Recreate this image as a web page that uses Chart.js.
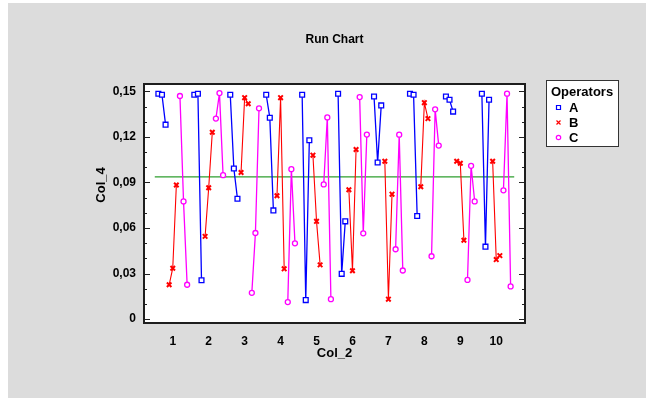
<!DOCTYPE html>
<html>
<head>
<meta charset="utf-8">
<title>Run Chart</title>
<script src="https://cdn.jsdelivr.net/npm/chart.js@4.4.1/dist/chart.umd.min.js"></script>
<style>
    html, body { margin: 0; padding: 0; background: #ffffff; }
    canvas { display: block; }
</style>
</head>
<body>
<canvas id="runChart" width="646" height="398"></canvas>
<script>
// Col_2 groups, 3 runs per operator in each group
const categories = [1, 2, 3, 4, 5, 6, 7, 8, 9, 10];
const operators = ['A', 'B', 'C'];

// Col_4 values, three per group, in run order
const opA = [
    0.1485, 0.1478, 0.1281,
    0.1478, 0.1485, 0.0256,
    0.1478, 0.0992, 0.0793,
    0.1478, 0.1327, 0.0716,
    0.1478, 0.0125, 0.1178,
    0.1485, 0.0298, 0.0644,
    0.1467, 0.1032, 0.1408,
    0.1485, 0.1478, 0.0679,
    0.1467, 0.1445, 0.1367,
    0.1485, 0.0477, 0.1445
];
const opB = [
    0.0226, 0.0335, 0.0883,
    0.0545, 0.0865, 0.1231,
    0.0966, 0.1459, 0.1419,
    0.0813, 0.1459, 0.0331,
    0.1080, 0.0644, 0.0357,
    0.0852, 0.0318, 0.1117,
    0.1040, 0.0131, 0.0823,
    0.0872, 0.1426, 0.1321,
    0.1040, 0.1027, 0.0519,
    0.1040, 0.0392, 0.0418
];
const opC = [
    0.1470, 0.0775, 0.0226,
    0.1321, 0.1489, 0.0948,
    0.0173, 0.0567, 0.1389,
    0.0112, 0.0988, 0.0499,
    0.0887, 0.1329, 0.0131,
    0.1463, 0.0565, 0.1216,
    0.0460, 0.1215, 0.0320,
    0.0414, 0.1382, 0.1143,
    0.0258, 0.1010, 0.0775,
    0.0848, 0.1485, 0.0215
];
const centerLine = 0.0937;

const yTicks = [0, 0.03, 0.06, 0.09, 0.12, 0.15];
const yTickLabels = ['0', '0,03', '0,06', '0,09', '0,12', '0,15'];

const FONT = "'Liberation Sans', Arial, sans-serif";

// place each run beside its group label, with a break between groups
function buildPoints(values, opIndex) {
    const pts = [];
    categories.forEach((cat, c) => {
        for (let j = 0; j < 3; j++) {
            pts.push({ x: cat + (opIndex * 3 + j - 4) / 10, y: values[c * 3 + j] });
        }
        pts.push({ x: cat + 0.45, y: null });
    });
    return pts;
}

const styles = [
    { color: '#0000ff', point: 'rect', radius: 3.4, width: 1.3 },
    { color: '#ff0000', point: 'crossRot', radius: 3.2, width: 1.1 },
    { color: '#ff00ff', point: 'circle', radius: 2.5, width: 1.3 }
];

const series = [opA, opB, opC];
const datasets = series.map((vals, i) => ({
    label: operators[i],
    data: buildPoints(vals, i),
    borderColor: styles[i].color,
    borderWidth: styles[i].width,
    pointStyle: styles[i].point,
    pointRadius: styles[i].radius,
    pointBorderColor: styles[i].color,
    pointBackgroundColor: '#ffffff',
    pointBorderWidth: i === 1 ? 2 : 1.3,
    spanGaps: false,
    tension: 0
}));
datasets.push({
    label: 'center',
    data: [{ x: categories[0] - 0.5, y: centerLine }, { x: categories[categories.length - 1] + 0.5, y: centerLine }],
    borderColor: '#2e9e2e',
    borderWidth: 1.3,
    pointRadius: 0
});

// panel background, frame, inward ticks, text and legend
const decorPlugin = {
    id: 'decor',
    beforeDraw(chart) {
        const ctx = chart.ctx;
        const a = chart.chartArea;
        ctx.save();
        ctx.fillStyle = '#ffffff';
        ctx.fillRect(0, 0, chart.width, chart.height);
        ctx.fillStyle = '#dcdcdc';
        ctx.fillRect(8, 3, chart.width - 8, chart.height - 3);
        ctx.fillStyle = '#ffffff';
        ctx.fillRect(a.left, a.top, a.right - a.left, a.bottom - a.top);
        ctx.restore();
    },
    afterDraw(chart) {
        const ctx = chart.ctx;
        const a = chart.chartArea;
        const y = chart.scales.y;
        ctx.save();

        // tick marks pointing into the plot on both sides
        ctx.strokeStyle = '#222222';
        ctx.lineWidth = 1;
        y.ticks.forEach(t => {
            const py = Math.round(y.getPixelForValue(t.value)) + 0.5;
            const len = t.label !== '' ? 6 : 3;
            ctx.beginPath();
            ctx.moveTo(a.left, py);
            ctx.lineTo(a.left + len, py);
            ctx.moveTo(a.right, py);
            ctx.lineTo(a.right - len, py);
            ctx.stroke();
        });

        // frame
        ctx.strokeStyle = '#1e1e1e';
        ctx.lineWidth = 2;
        ctx.strokeRect(a.left, a.top, a.right - a.left, a.bottom - a.top);

        // titles
        ctx.fillStyle = '#000000';
        ctx.textAlign = 'center';
        ctx.textBaseline = 'middle';
        ctx.font = 'bold 12px ' + FONT;
        ctx.fillText('Run Chart', (a.left + a.right) / 2, 40);
        ctx.font = 'bold 13px ' + FONT;
        ctx.fillText('Col_2', (a.left + a.right) / 2, 353);
        ctx.save();
        ctx.translate(101, 185);
        ctx.rotate(-Math.PI / 2);
        ctx.fillText('Col_4', 0, 0);
        ctx.restore();

        // legend box
        const lx = 546, ly = 80, lw = 72, lh = 66;
        ctx.fillStyle = '#ffffff';
        ctx.fillRect(lx, ly, lw, lh);
        ctx.strokeStyle = '#333333';
        ctx.lineWidth = 1;
        ctx.strokeRect(lx + 0.5, ly + 0.5, lw, lh);
        ctx.fillStyle = '#000000';
        ctx.textAlign = 'left';
        ctx.font = 'bold 13px ' + FONT;
        ctx.fillText('Operators', 551, 92);
        operators.forEach((op, i) => {
            const cy = 107.5 + i * 15;
            ctx.strokeStyle = styles[i].color;
            ctx.fillStyle = '#ffffff';
            ctx.lineWidth = 1.2;
            ctx.beginPath();
            if (styles[i].point === 'rect') {
                ctx.rect(556.5, cy - 2, 4, 4);
                ctx.fill();
                ctx.stroke();
            } else if (styles[i].point === 'circle') {
                ctx.arc(558.5, cy, 2.2, 0, Math.PI * 2);
                ctx.fill();
                ctx.stroke();
            } else {
                ctx.moveTo(556.5, cy - 2); ctx.lineTo(560.5, cy + 2);
                ctx.moveTo(560.5, cy - 2); ctx.lineTo(556.5, cy + 2);
                ctx.stroke();
            }
            ctx.fillStyle = '#000000';
            ctx.fillText(op, 569, cy + 0.5);
        });
        ctx.restore();
    }
};

const ctx = document.getElementById('runChart').getContext('2d');
const runChart = new Chart(ctx, {
    type: 'line',
    data: { datasets: datasets },
    options: {
        responsive: false,
        animation: false,
        devicePixelRatio: 1,
        layout: { padding: { left: 0, top: 84, right: 121, bottom: 0 } },
        plugins: {
            legend: { display: false },
            title: { display: false },
            tooltip: { enabled: false }
        },
        scales: {
            x: {
                type: 'linear',
                min: 0.2,
                max: 10.8,
                grid: { display: false, drawTicks: false },
                border: { display: false },
                afterBuildTicks: scale => {
                    scale.ticks = categories.map(v => ({ value: v }));
                },
                afterFit: scale => { scale.height = 75; },
                ticks: {
                    autoSkip: false,
                    maxRotation: 0,
                    padding: 11,
                    color: '#000000',
                    font: { family: FONT, size: 12, weight: 'bold' },
                    callback: value => String(value)
                }
            },
            y: {
                min: -0.0026,
                max: 0.1549,
                grid: { display: false, drawTicks: false },
                border: { display: false },
                afterBuildTicks: scale => {
                    const t = [];
                    for (let i = 0; i <= 15; i++) t.push({ value: i / 100 });
                    scale.ticks = t;
                },
                afterFit: scale => { scale.width = 144; },
                ticks: {
                    autoSkip: false,
                    padding: 8,
                    color: '#000000',
                    font: { family: FONT, size: 12, weight: 'bold' },
                    callback: value => {
                        const idx = yTicks.findIndex(v => Math.abs(v - value) < 1e-9);
                        return idx >= 0 ? yTickLabels[idx] : '';
                    }
                }
            }
        }
    },
    plugins: [decorPlugin]
});
</script>
</body>
</html>
